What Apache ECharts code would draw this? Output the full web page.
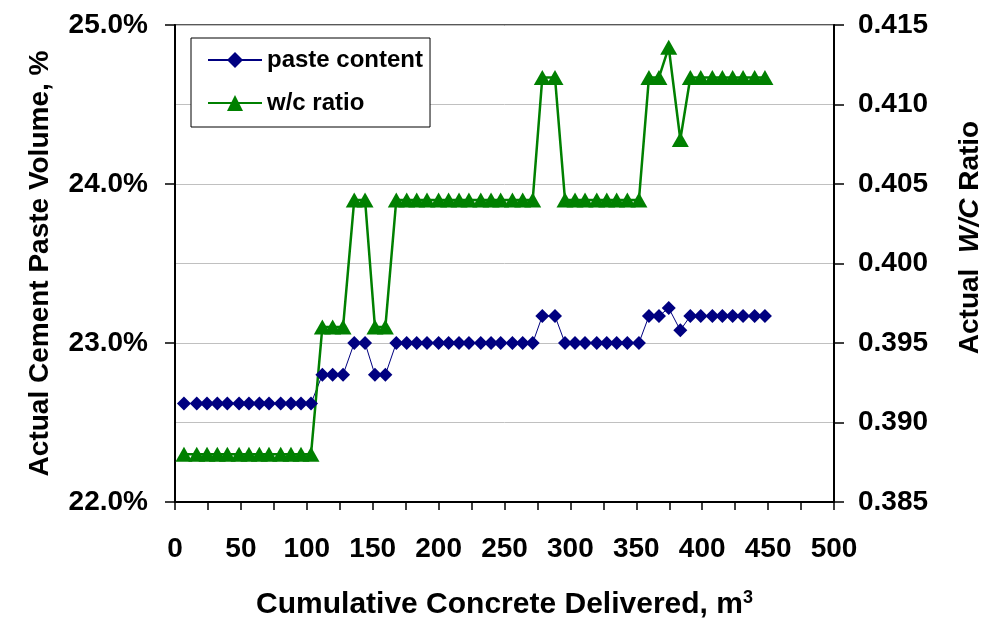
<!DOCTYPE html>
<html>
<head>
<meta charset="utf-8">
<script src="https://cdn.jsdelivr.net/npm/echarts@6/dist/echarts.min.js"></script>
<style>
html,body{margin:0;padding:0;background:#fff;}
#chart{width:988px;height:623px;}
</style>
</head>
<body>
<div id="chart"></div>
<script>
// 累计方量 (m3)
var delivered = [6.8, 16.5, 24.3, 32.1, 39.7, 48.6, 56.1, 64.0, 71.3, 80.2, 88.0, 95.6, 103.2,
  111.8, 119.6, 127.5, 136.0, 144.2, 151.7, 159.6,
  167.9, 175.8, 183.4, 191.2, 200.0, 207.6, 215.5, 223.0, 232.0, 239.8, 247.1, 256.0, 263.8, 271.4,
  278.7, 288.3,
  295.9, 303.5, 311.1, 320.0, 327.6, 335.1, 343.2, 352.0,
  359.6, 367.2, 374.6, 383.4,
  391.0, 398.9, 407.7, 415.3, 423.1, 431.0, 439.8, 447.6];
// 浆体含量 %
var pasteContent = [22.62, 22.62, 22.62, 22.62, 22.62, 22.62, 22.62, 22.62, 22.62, 22.62, 22.62, 22.62, 22.62,
  22.80, 22.80, 22.80, 23.00, 23.00, 22.80, 22.80,
  23.00, 23.00, 23.00, 23.00, 23.00, 23.00, 23.00, 23.00, 23.00, 23.00, 23.00, 23.00, 23.00, 23.00,
  23.17, 23.17,
  23.00, 23.00, 23.00, 23.00, 23.00, 23.00, 23.00, 23.00,
  23.17, 23.17, 23.22, 23.08,
  23.17, 23.17, 23.17, 23.17, 23.17, 23.17, 23.17, 23.17];
// 水灰比
var wcRatio = [0.388, 0.388, 0.388, 0.388, 0.388, 0.388, 0.388, 0.388, 0.388, 0.388, 0.388, 0.388, 0.388,
  0.396, 0.396, 0.396, 0.404, 0.404, 0.396, 0.396,
  0.404, 0.404, 0.404, 0.404, 0.404, 0.404, 0.404, 0.404, 0.404, 0.404, 0.404, 0.404, 0.404, 0.404,
  0.4117, 0.4117,
  0.404, 0.404, 0.404, 0.404, 0.404, 0.404, 0.404, 0.404,
  0.4117, 0.4117, 0.4136, 0.4078,
  0.4117, 0.4117, 0.4117, 0.4117, 0.4117, 0.4117, 0.4117, 0.4117];

var FONT = '"Liberation Sans", Arial, sans-serif';
var GRID_GRAY = '#c0c0c0';

function pairs(xs, ys){
	var out = [];
	for(var i=0;i<xs.length;i++){
		out.push([xs[i], ys[i]]);
	}
	return out;
}

var chart = echarts.init(document.getElementById('chart'));
var option = {
	backgroundColor: '#ffffff',
	animation: false,
	textStyle: { fontFamily: FONT },
	grid: {
		left: 175, right: 154, top: 25, bottom: 121,
		outerBoundsMode: 'none',
		show: true, borderColor: '#222', borderWidth: 1.5
	},
	legend: {
		orient: 'vertical',
		left: 191, top: 38,
		padding: [10, 7, 12, 16],
		itemGap: 19,
		itemWidth: 54, itemHeight: 20,
		borderColor: '#000', borderWidth: 1,
		backgroundColor: '#fff',
		textStyle: { fontFamily: FONT, fontSize: 24, fontWeight: 'bold', color: '#000' },
		data: ['paste content', 'w/c ratio']
	},
	xAxis: {
		type: 'value', min: 0, max: 500, interval: 50,
		name: '{t|Cumulative Concrete Delivered, m}{s|3}',
		nameLocation: 'middle', nameGap: 87,
		nameTextStyle: {
			rich: {
				t: { fontFamily: FONT, fontSize: 30, fontWeight: 'bold', color: '#000' },
				s: { fontFamily: FONT, fontSize: 18, fontWeight: 'bold', color: '#000', verticalAlign: 'top', padding: [0, 0, 14, 0] }
			}
		},
		axisLine: { lineStyle: { color: '#000', width: 2 } },
		axisTick: { inside: false, length: 8, lineStyle: { color: '#000', width: 1.5 } },
		minorTick: { show: true, splitNumber: 2, length: 8, lineStyle: { color: '#000', width: 1.5 } },
		axisLabel: { margin: 33, fontFamily: FONT, fontSize: 28, fontWeight: 'bold', color: '#000' },
		splitLine: { show: false }
	},
	yAxis: [{
		type: 'value', min: 22, max: 25, interval: 1, position: 'left',
		name: 'Actual Cement Paste Volume, %',
		nameLocation: 'middle', nameGap: 121,
		nameTextStyle: { fontFamily: FONT, fontSize: 28, fontWeight: 'bold', color: '#000' },
		axisLine: { show: true, lineStyle: { color: '#000', width: 2 } },
		axisTick: { show: true, length: 10, lineStyle: { color: '#000', width: 1.5 } },
		minorTick: { show: false, splitNumber: 2 },
		axisLabel: { margin: 27, fontFamily: FONT, fontSize: 28, fontWeight: 'bold', color: '#000',
			formatter: function(v){ return v.toFixed(1) + '%'; } },
		splitLine: { show: true, lineStyle: { color: GRID_GRAY, width: 1 } },
		minorSplitLine: { show: true, lineStyle: { color: GRID_GRAY, width: 1 } }
	}, {
		type: 'value', min: 0.385, max: 0.415, interval: 0.005, position: 'right',
		name: '{a|Actual  }{b|W/C}{a| Ratio}',
		nameLocation: 'middle', nameGap: 122,
		nameTextStyle: {
			padding: [0, 0, 0, 52],
			rich: {
				a: { fontFamily: FONT, fontSize: 28, fontWeight: 'bold', color: '#000' },
				b: { fontFamily: FONT, fontSize: 28, fontWeight: 'bold', fontStyle: 'italic', color: '#000' }
			}
		},
		axisLine: { show: true, lineStyle: { color: '#000', width: 2 } },
		axisTick: { show: true, length: 10, lineStyle: { color: '#000', width: 1.5 } },
		axisLabel: { margin: 24, fontFamily: FONT, fontSize: 28, fontWeight: 'bold', color: '#000',
			formatter: function(v){ return v.toFixed(3); } },
		splitLine: { show: false }
	}],
	series: [{
		name: 'paste content',
		type: 'line',
		yAxisIndex: 0,
		data: pairs(delivered, pasteContent),
		symbol: 'diamond', symbolSize: 14,
		lineStyle: { color: '#000080', width: 1 },
		itemStyle: { color: '#000080' }
	}, {
		name: 'w/c ratio',
		type: 'line',
		yAxisIndex: 1,
		data: pairs(delivered, wcRatio),
		symbol: 'triangle', symbolSize: [17, 15],
		lineStyle: { color: '#008000', width: 2.5 },
		itemStyle: { color: '#008000' }
	}]
};
chart.setOption(option);
window.addEventListener('resize', function(){ chart.resize(); });
</script>
</body>
</html>
